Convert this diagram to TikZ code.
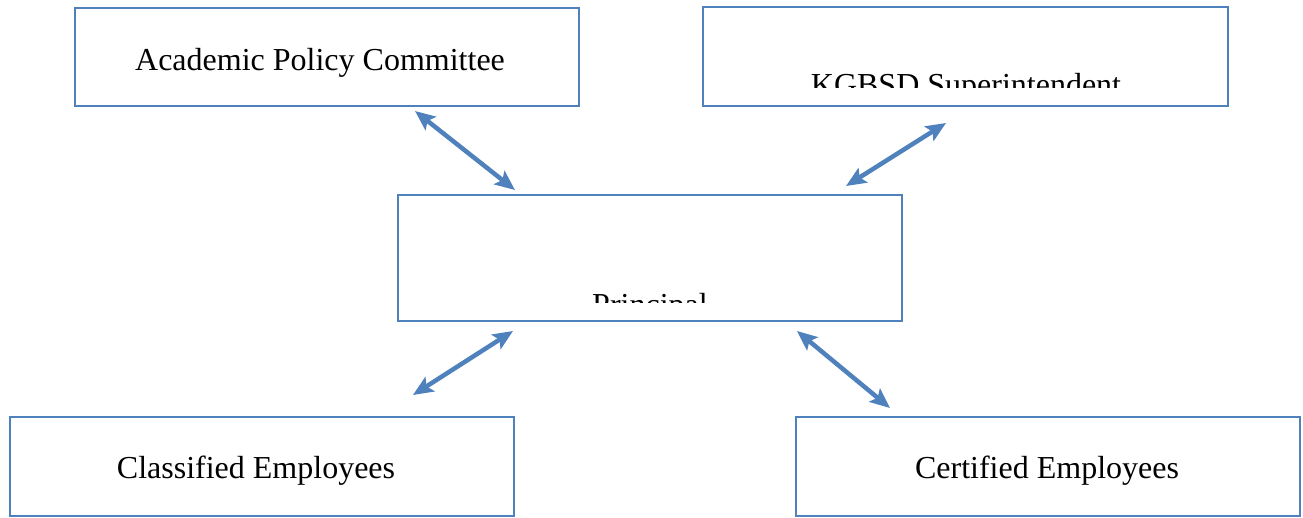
\documentclass[tikz,border=0pt]{standalone}
\usepackage{fontspec}
\setmainfont{Liberation Serif}
\usetikzlibrary{arrows.meta}
\definecolor{obl}{RGB}{79,129,189}
\tikzset{
  orgbox/.style={draw=obl, line width=1.5pt, rectangle, inner sep=0pt},
  lbl/.style={inner sep=0pt, anchor=base, font=\fontsize{32}{36}\selectfont, text=black},
  link/.style={draw=obl, line width=4.5pt, {Stealth[length=20pt,width=17pt,inset=4pt]}-{Stealth[length=20pt,width=17pt,inset=4pt]}}
}
\begin{document}
\begin{tikzpicture}[x=1pt,y=-1pt]
\useasboundingbox (0,0) rectangle (1303,517);
% boxes
\node[orgbox, minimum width=504pt, minimum height=98pt] (apc) at (327,57) {};
\node[orgbox, minimum width=525pt, minimum height=99pt] (sup) at (965.5,56.5) {};
\node[orgbox, minimum width=504pt, minimum height=126pt] (pri) at (650,258) {};
\node[orgbox, minimum width=504pt, minimum height=99pt] (cla) at (262,466.5) {};
\node[orgbox, minimum width=504pt, minimum height=99pt] (cer) at (1048,466.5) {};
% labels
\node[lbl] (tapc) at (320,70) {Academic Policy Committee};
\node[lbl] (tcla) at (256,478) {Classified Employees};
\node[lbl] (tcer) at (1047,478) {Certified Employees};
\begin{scope}
  \clip (703,7) rectangle (1228,87.5);
  \node[lbl] (tsup) at (966,95) {KGBSD Superintendent};
\end{scope}
\begin{scope}
  \clip (398,195) rectangle (902,302.5);
  \node[lbl] (tpri) at (650,315) {Principal};
\end{scope}
% arrow end points
\coordinate (a1) at (415,111);
\coordinate (b1) at (515,190);
\coordinate (a2) at (946,123);
\coordinate (b2) at (846,186);
\coordinate (a3) at (513,331);
\coordinate (b3) at (413,395);
\coordinate (a4) at (797,331);
\coordinate (b4) at (890,408);
\draw[link] (a1) -- (b1);
\draw[link] (a2) -- (b2);
\draw[link] (a3) -- (b3);
\draw[link] (a4) -- (b4);
\end{tikzpicture}
\end{document}
